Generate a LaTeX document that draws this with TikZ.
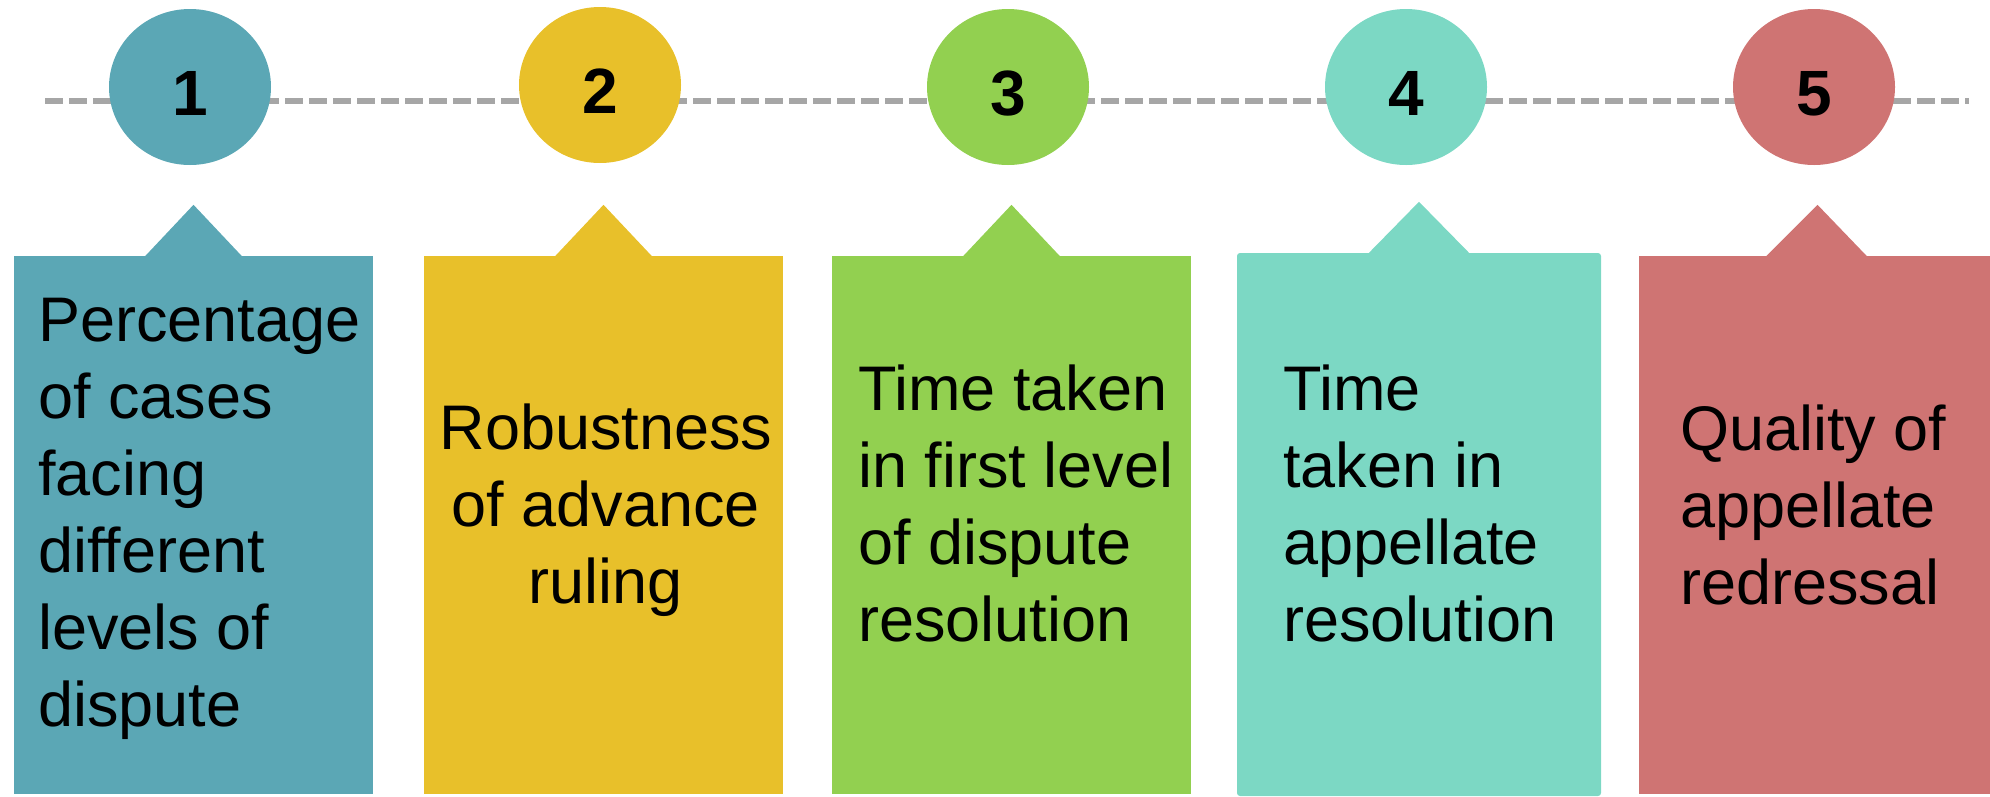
\documentclass[tikz,border=0pt]{standalone}
\usepackage{fontspec}
\setmainfont{Liberation Sans}
\usepackage{xcolor}
\usetikzlibrary{shapes.geometric, positioning, calc}

\definecolor{tealc}{HTML}{5BA7B5}
\definecolor{yellowc}{HTML}{E8C02A}
\definecolor{greenc}{HTML}{92D050}
\definecolor{mintc}{HTML}{7CD8C4}
\definecolor{redc}{HTML}{CF7473}
\definecolor{lineg}{HTML}{A6A6A6}

\begin{document}
\begin{tikzpicture}[
    x=1pt, y=-1pt,
    badge/.style={ellipse, minimum width=162pt, minimum height=156pt, inner sep=0pt, text height=56pt, text depth=0pt, font=\bfseries\fontsize{64}{64}\selectfont},
    panel/.style={rectangle, inner sep=0pt, minimum width=359pt, minimum height=538pt},
    desc/.style={inner sep=0pt, font=\fontsize{63}{77}\selectfont},
    timeline/.style={draw=lineg, line width=5.7pt, dash pattern=on 18pt off 6pt}
]
\useasboundingbox (0,0) rectangle (1990,796);

% dashed time line behind the numbers
\coordinate (lstart) at (45,101);
\coordinate (lend) at (1969,101);
\draw[timeline] (lstart) -- (lend);

% numbered badges
\node[badge, fill=tealc] (n1) at (190,87) {1};
\node[badge, fill=yellowc] (n2) at (600,85) {2};
\node[badge, fill=greenc] (n3) at (1008,87) {3};
\node[badge, fill=mintc] (n4) at (1406,87) {4};
\node[badge, fill=redc] (n5) at (1814,87) {5};

% panels
\node[panel, fill=tealc] (box1) at (193.5,525) {};
\node[panel, fill=yellowc] (box2) at (603.5,525) {};
\node[panel, fill=greenc] (box3) at (1011.5,525) {};
\node[panel, fill=mintc, minimum width=364pt, minimum height=543pt, rounded corners=3pt] (box4) at (1419,524.5) {};
\node[panel, fill=redc, minimum width=351pt] (box5) at (1814.5,525) {};

% pointers on top of the panels
\fill[tealc] ($(box1.north)+(-49,1)$) -- ($(box1.north)+(0,-51)$) -- ($(box1.north)+(49,1)$) -- cycle;
\fill[yellowc] ($(box2.north)+(-49,1)$) -- ($(box2.north)+(0,-51)$) -- ($(box2.north)+(49,1)$) -- cycle;
\fill[greenc] ($(box3.north)+(-49,1)$) -- ($(box3.north)+(0,-51)$) -- ($(box3.north)+(49,1)$) -- cycle;
\fill[mintc] ($(box4.north)+(-51,1)$) -- ($(box4.north)+(0,-51)$) -- ($(box4.north)+(51,1)$) -- cycle;
\fill[redc] ($(box5.north)+(-49,1)$) -- ($(box5.north)+(3,-51)$) -- ($(box5.north)+(53,1)$) -- cycle;

% panel texts (base anchor sits on the last line)
\node[desc, anchor=base west, align=left] (t1) at (38,726) {Percentage\\of cases\\facing\\different\\levels of\\dispute};
\node[desc, anchor=base, align=center] (t2) at (606,603) {Robustness\\of advance\\ruling};
\node[desc, anchor=base west, align=left] (t3) at (858,641) {Time taken\\in first level\\of dispute\\resolution};
\node[desc, anchor=base west, align=left] (t4) at (1283,641) {Time\\taken in\\appellate\\resolution};
\node[desc, anchor=base west, align=left] (t5) at (1680,604) {Quality of\\appellate\\redressal};

\end{tikzpicture}
\end{document}
